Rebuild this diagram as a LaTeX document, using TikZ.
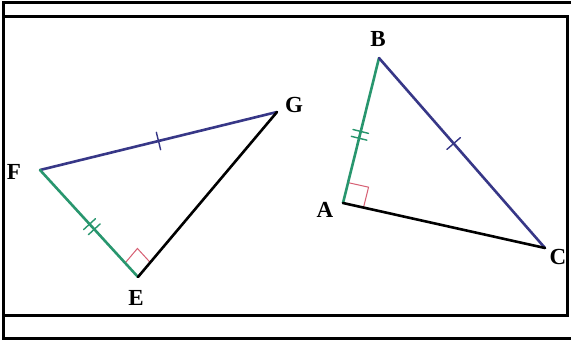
\documentclass[tikz,border=0pt]{standalone}
\usepackage{fontspec}
\setmainfont{Liberation Serif}
\usetikzlibrary{calc,decorations.markings}
\definecolor{sidegreen}{RGB}{40,150,110}
\definecolor{sideblue}{RGB}{55,55,135}
\definecolor{anglered}{RGB}{215,95,115}
\begin{document}
\begin{tikzpicture}[x=1pt,y=-1pt,
  side/.style={line width=2.6pt,line cap=round},
  frame/.style={line width=3pt,black},
  lbl/.style={font=\fontsize{23}{23}\selectfont\bfseries,inner sep=0pt},
  onetick/.style 2 args={postaction={decorate},decoration={markings,mark=at position #1 with {\draw[#2,line width=1.4pt] (0pt,-9pt)--(0pt,9pt);}}},
  twotick/.style 2 args={postaction={decorate},decoration={markings,mark=at position #1 with {\draw[#2,line width=1.4pt] (-3.5pt,-8pt)--(-3.5pt,8pt) (3.5pt,-8pt)--(3.5pt,8pt);}}},
  rightang/.style={anglered,line width=1pt}]
\useasboundingbox (0,0) rectangle (571,342);
\fill[white] (0,0) rectangle (571,342);
% frame
\draw[frame] (571,3) -- (3,3) -- (3,338) -- (571,338);
\draw[frame] (3,17) -- (567,17) -- (567,315) -- (3,315);
% left triangle
\coordinate (F) at (40,170);
\coordinate (G) at (277,112);
\coordinate (E) at (138,277);
% right triangle
\coordinate (B) at (379,58);
\coordinate (A) at (343,203);
\coordinate (C) at (545,248);
% right angle marks
\coordinate (e1) at ($(E)!19pt!(F)$);
\coordinate (e2) at ($(E)!19pt!(G)$);
\draw[rightang] (e1) -- ($(e1)+(e2)-(E)$) -- (e2);
\coordinate (a1) at ($(A)!21pt!(B)$);
\coordinate (a2) at ($(A)!21pt!(C)$);
\draw[rightang] (a1) -- ($(a1)+(a2)-(A)$) -- (a2);
% sides
\draw[side,sideblue,onetick={0.5}{sideblue}] (F) -- (G);
\draw[side,sidegreen,twotick={0.53}{sidegreen}] (F) -- (E);
\draw[side,black] (E) -- (G);
\draw[side,sidegreen,twotick={0.53}{sidegreen}] (B) -- (A);
\draw[side,sideblue,onetick={0.45}{sideblue}] (B) -- (C);
\draw[side,black] (A) -- (C);
% labels
\node[lbl] (lF) at (14,172) {F};
\node[lbl] (lG) at (294,105) {G};
\node[lbl] (lE) at (136,298) {E};
\node[lbl] (lB) at (378,39) {B};
\node[lbl] (lA) at (325,210) {A};
\node[lbl] (lC) at (558,257) {C};
\end{tikzpicture}
\end{document}
